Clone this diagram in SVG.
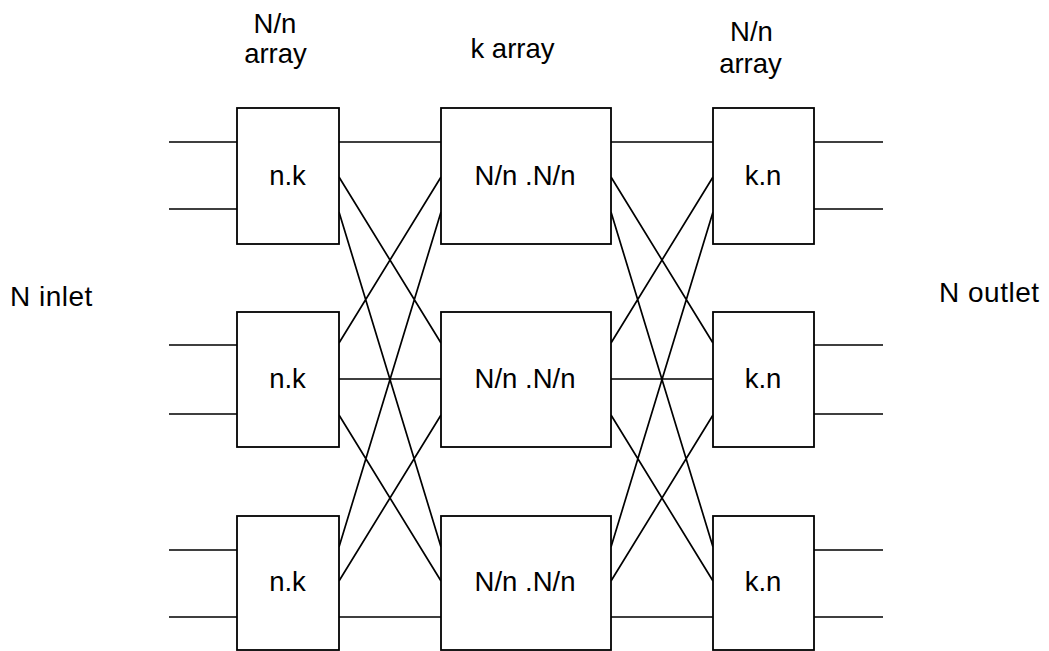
<svg xmlns="http://www.w3.org/2000/svg" width="1049" height="651" viewBox="0 0 1049 651">
  <style>
    .box { fill: #ffffff; stroke: #000000; stroke-width: 1.8; }
    .wire { fill: none; stroke: #000000; stroke-width: 1.7; }
    .lbl { font-family: "Liberation Sans", Arial, sans-serif; font-size: 27.5px; fill: #000000; }
    .side { font-size: 28px; letter-spacing: 0.5px; }
    .mid { text-anchor: middle; }
  </style>
  <rect width="1049" height="651" fill="#ffffff"/>

  <!-- column headings -->
  <text class="lbl mid" x="275" y="33">N/n</text>
  <text class="lbl mid" x="275.5" y="63">array</text>
  <text class="lbl mid" x="512.5" y="58">k array</text>
  <text class="lbl mid" x="751.5" y="41">N/n</text>
  <text class="lbl mid" x="750.5" y="73">array</text>

  <!-- side labels -->
  <text class="lbl side" x="10" y="306">N inlet</text>
  <text class="lbl side" x="939" y="302">N outlet</text>

  <g id="connectors">
    <!-- inlets -->
    <path class="wire" d="M169,142H237 M169,209H237 M169,345H237 M169,414H237 M169,550H237 M169,617H237"/>
    <!-- outlets -->
    <path class="wire" d="M814,142H883 M814,209H883 M814,345H883 M814,414H883 M814,550H883 M814,617H883"/>
    <!-- first stage to middle stage -->
    <path class="wire" d="M339,142L441,142 M339,177L441,343 M339,212L441,547
                          M339,343L441,177 M339,379L441,379 M339,415L441,581
                          M339,547L441,212 M339,581L441,415 M339,617L441,617"/>
    <!-- middle stage to last stage -->
    <path class="wire" d="M611,142L713,142 M611,177L713,343 M611,212L713,547
                          M611,343L713,177 M611,379L713,379 M611,415L713,581
                          M611,547L713,212 M611,581L713,415 M611,617L713,617"/>
  </g>

  <!-- first stage: n.k switches -->
  <g id="in1"><rect class="box" x="237" y="108" width="102" height="136"/><text class="lbl mid" x="287.5" y="185">n.k</text></g>
  <g id="in2"><rect class="box" x="237" y="312" width="102" height="135"/><text class="lbl mid" x="287.5" y="388">n.k</text></g>
  <g id="in3"><rect class="box" x="237" y="516" width="102" height="134"/><text class="lbl mid" x="287.5" y="591">n.k</text></g>

  <!-- middle stage: N/n .N/n switches -->
  <g id="mid1"><rect class="box" x="441" y="108" width="170" height="136"/><text class="lbl mid" x="525" y="185">N/n .N/n</text></g>
  <g id="mid2"><rect class="box" x="441" y="312" width="170" height="135"/><text class="lbl mid" x="525" y="388">N/n .N/n</text></g>
  <g id="mid3"><rect class="box" x="441" y="516" width="170" height="134"/><text class="lbl mid" x="525" y="591">N/n .N/n</text></g>

  <!-- last stage: k.n switches -->
  <g id="out1"><rect class="box" x="713" y="108" width="101" height="136"/><text class="lbl mid" x="763" y="185">k.n</text></g>
  <g id="out2"><rect class="box" x="713" y="312" width="101" height="135"/><text class="lbl mid" x="763" y="388">k.n</text></g>
  <g id="out3"><rect class="box" x="713" y="516" width="101" height="134"/><text class="lbl mid" x="763" y="591">k.n</text></g>
</svg>
